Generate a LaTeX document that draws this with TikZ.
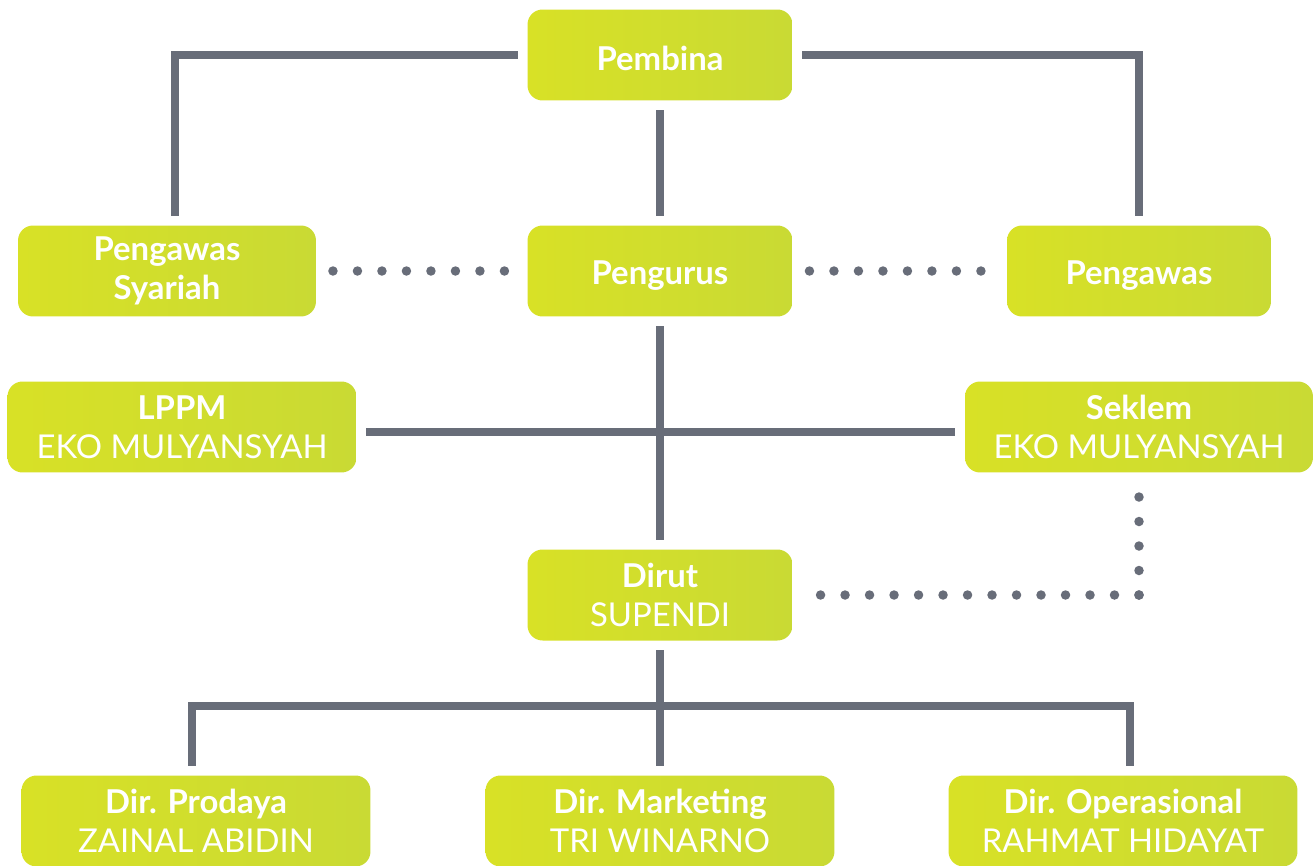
\documentclass[tikz,border=0pt]{standalone}
\usepackage{fontspec}
\setmainfont{Lato}
\usetikzlibrary{positioning}

\definecolor{limeL}{RGB}{216,225,38}
\definecolor{limeR}{RGB}{201,218,52}
\definecolor{slate}{RGB}{104,109,121}

\newcommand{\lowered}[2]{\raisebox{-#1}[\height][\depth]{\textbf{#2}}}

\tikzset{
  unit/.style={rounded corners=0.3cm, left color=limeL, right color=limeR, text=white,
    align=center, minimum height=1.82cm, inner sep=0pt, outer sep=0.2cm,
    font=\fontsize{18.7}{22}\selectfont},
  link/.style={draw=slate, line width=0.16cm},
  dotlink/.style={draw=slate, line width=0.19cm, line cap=round, dash pattern=on 0pt off 0.49cm},
}

\begin{document}
\begin{tikzpicture}[x=0.02cm,y=-0.02cm]
  \useasboundingbox (0,0) rectangle (1316,866);

  % top rows
  \node[unit, minimum width=5.3cm] (pembina) at (660,55) {\lowered{0.06cm}{Pembina}};
  \node[unit, minimum width=5.96cm] (syariah) at (167,271) {\textbf{Pengawas}\\\textbf{Syariah}};
  \node[unit, minimum width=5.3cm] (pengurus) at (660,271) {\lowered{0.1cm}{Pengurus}};
  \node[unit, minimum width=5.28cm] (pengawas) at (1139,271) {\lowered{0.1cm}{Pengawas}};

  % staff
  \node[unit, minimum width=6.98cm] (lppm) at (182,427) {\textbf{LPPM}\\EKO MULYANSYAH};
  \node[unit, minimum width=6.96cm] (seklem) at (1139,427) {\textbf{Seklem}\\EKO MULYANSYAH};
  \node[unit, minimum width=5.3cm] (dirut) at (660,595) {\textbf{Dirut}\\SUPENDI};

  % directors
  \foreach \n/\x/\t/\s in {prodaya/196/Dir. Prodaya/ZAINAL ABIDIN,
      marketing/660/Dir. Marketing/TRI WINARNO,
      operasional/1123/Dir. Operasional/RAHMAT HIDAYAT} {
    \node[unit, minimum width=6.98cm] (\n) at (\x,821) {\textbf{\t}\\\s};
  }

  % solid lines
  \draw[link] (pembina) -| ([xshift=0.16cm]syariah.north);
  \draw[link] (pembina) -| (pengawas);
  \draw[link] (pembina) -- (pengurus);
  \draw[link] (pengurus) -- (dirut);
  \draw[link] ([yshift=-0.1cm]lppm.east) -- ([yshift=-0.1cm]seklem.west);
  \coordinate (bus) at (660,706);
  \draw[link] (dirut) -- (marketing);
  \draw[link] ([xshift=-0.08cm]prodaya.north) |- (bus) -| ([xshift=0.14cm]operasional.north);

  % dotted lines
  \draw[dotlink, shorten <=0.14cm] (syariah) -- (pengurus);
  \draw[dotlink, shorten <=0.14cm] (pengurus) -- (pengawas);
  \coordinate (elbow) at (seklem.south |- dirut.east);
  \draw[dotlink] (elbow) -- (dirut);
  \draw[dotlink] (elbow) -- (seklem);
\end{tikzpicture}
\end{document}
